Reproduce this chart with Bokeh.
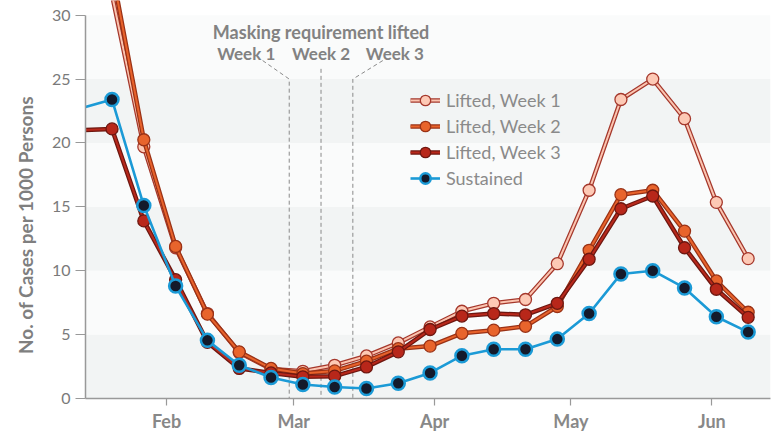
import pandas as pd
from bokeh.plotting import figure
from bokeh.models import (Range1d, FixedTicker, DatetimeTickFormatter, BoxAnnotation,
                          ColumnDataSource, Legend, LegendItem, CDSView, BooleanFilter)
from bokeh.embed import file_html
from bokeh.resources import INLINE
from bokeh.core.properties import value

NAN = float("nan")

# ---------------- data ----------------
week_dates = ["2021-01-13", "2021-01-20", "2021-01-27", "2021-02-03", "2021-02-10",
              "2021-02-17", "2021-02-24", "2021-03-03", "2021-03-10", "2021-03-17",
              "2021-03-24", "2021-03-31", "2021-04-07", "2021-04-14", "2021-04-21",
              "2021-04-28", "2021-05-05", "2021-05-12", "2021-05-19", "2021-05-26",
              "2021-06-02", "2021-06-09"]
sustained = [22.7, 23.4, 15.1, 8.8, 4.55, 2.6, 1.65, 1.1, 0.9, 0.78, 1.2, 2.0,
             3.35, 3.85, 3.85, 4.65, 6.65, 9.75, 10.0, 8.65, 6.4, 5.2]
lifted_week3 = [21.0, 21.1, 13.9, 9.3, 4.4, 2.35, 2.0, 1.7, 1.75, 2.47, 3.65, 5.4,
                6.45, 6.65, 6.55, 7.45, 10.9, 14.85, 15.85, 11.8, 8.55, 6.35]
lifted_week2 = [NAN, 33.5, 20.25, 11.9, 6.6, 3.65, 2.35, 1.95, 2.16, 2.92, 3.9, 4.1,
                5.1, 5.35, 5.65, 7.2, 11.6, 15.95, 16.3, 13.1, 9.2, 6.75]
lifted_week1 = [NAN, 31.6, 19.7, 11.8, 6.65, 3.6, 2.3, 2.13, 2.6, 3.33, 4.35, 5.6,
                6.83, 7.45, 7.75, 10.55, 16.3, 23.4, 25.0, 21.9, 15.35, 10.95]
series_labels = ["Lifted, Week 1", "Lifted, Week 2", "Lifted, Week 3", "Sustained"]

month_ticks = ["2021-02-01", "2021-03-01", "2021-04-01", "2021-05-01", "2021-06-01"]
y_ticks = [0, 5, 10, 15, 20, 25, 30]
band_edges = [0, 5, 10, 15, 20, 25, 30]
lift_dates = ["2021-02-28", "2021-03-07", "2021-03-14"]
lift_labels = ["Week 1", "Week 2", "Week 3"]
annotation_title = "Masking requirement lifted"
y_label = "No. of Cases per 1000 Persons"

# ---------------- figure ----------------
FONT = "Lato"
GRAY = "#828282"
x_start = pd.Timestamp("2021-01-14 04:00")
x_end = pd.Timestamp("2021-06-13 22:00")
y_max_axis = 30

p = figure(width=778, height=436, x_axis_type="datetime",
           x_range=Range1d(x_start, x_end), y_range=Range1d(0, 31.15),
           output_backend="svg", toolbar_location=None, title=None,
           min_border_left=85, min_border_right=8, min_border_top=0,
           min_border_bottom=38)
p.outline_line_color = None
p.xgrid.visible = False
p.ygrid.visible = False
p.background_fill_color = "white"
p.border_fill_color = "white"

band_colors = ["#f2f4f4", "#fafbfb"]
for i in range(len(band_edges) - 1):
    p.add_layout(BoxAnnotation(bottom=band_edges[i], top=band_edges[i + 1],
                               fill_color=band_colors[i % 2], fill_alpha=1.0,
                               line_color=None, level="underlay"))

# annotation lines (dashed)
lift_ts = [pd.Timestamp(d) for d in lift_dates]
leader_dx_days = [-5.85, 0.0, 6.6]
leader_top = [26.45, 25.8, 26.45]
joint_y = 25.0
xs, ys = [], []
for d, dx, top in zip(lift_ts, leader_dx_days, leader_top):
    xs.append([d + pd.Timedelta(days=dx), d, d])
    ys.append([top, joint_y, 0])
p.multi_line(xs, ys, line_color="#8a8a8a", line_width=1, line_dash="4 3")

p.text(x=[lift_ts[1]], y=[28.7], text=[annotation_title], text_font=value(FONT),
       text_font_style="bold", text_font_size="18px", text_color=GRAY,
       text_align="center", text_baseline="middle")
p.text(x=lift_ts, y=[27.0] * 3, text=lift_labels, x_offset=[-43, 0, 42],
       text_font=value(FONT), text_font_style="bold", text_font_size="17px",
       text_color=GRAY, text_align="center", text_baseline="middle")

# series
x = pd.to_datetime(week_dates)
src = ColumnDataSource(dict(x=x, w1=lifted_week1, w2=lifted_week2,
                            w3=lifted_week3, sus=sustained))
in_view = [bool(d >= x_start) for d in x]


def marker_view(vals):
    return CDSView(filter=BooleanFilter(
        booleans=[bool(iv and v == v and v <= y_max_axis) for iv, v in zip(in_view, vals)]))


styles = [
    ("w1", lifted_week1, "#a5382c", "#fbc4b0", "#fdc9b5"),
    ("w2", lifted_week2, "#9a3216", "#e8622b", "#e8642c"),
    ("w3", lifted_week3, "#6e1710", "#b8281b", "#b8271a"),
]
items = []
for (col, vals, outer, inner, fill), lab in zip(styles, series_labels[:3]):
    r1 = p.line("x", col, source=src, line_color=outer, line_width=4.5)
    r2 = p.line("x", col, source=src, line_color=inner, line_width=2)
    r3 = p.scatter("x", col, source=src, view=marker_view(vals), size=12,
                   fill_color=fill, line_color=outer, line_width=1.3)
    items.append(LegendItem(label=lab, renderers=[r1, r2, r3]))

s1 = p.line("x", "sus", source=src, line_color="#1b9ad6", line_width=2.6)
s2 = p.scatter("x", "sus", source=src, view=marker_view(sustained), size=13,
               fill_color="#141a2b", line_color="#1b9ad6", line_width=2.5)
items.append(LegendItem(label=series_labels[3], renderers=[s1, s2]))

legend = Legend(items=items, location=(325, 207), orientation="vertical",
                glyph_width=30, glyph_height=26, spacing=0, padding=0, margin=0,
                label_standoff=6, label_text_font=FONT, label_text_font_size="18px",
                label_text_color="#8a8a8a", background_fill_alpha=0,
                border_line_color=None)
p.add_layout(legend)

# axes
p.xaxis.ticker = FixedTicker(ticks=[pd.Timestamp(t).value / 1e6 for t in month_ticks])
fmt = "%b"
p.xaxis.formatter = DatetimeTickFormatter(
    microseconds=fmt, milliseconds=fmt, seconds=fmt, minsec=fmt, minutes=fmt,
    hourmin=fmt, hours=fmt, days=fmt, months=fmt, years=fmt)
p.xaxis.major_label_text_font = FONT
p.xaxis.major_label_text_font_style = "bold"
p.xaxis.major_label_text_font_size = "18px"
p.xaxis.major_label_text_color = "#888888"
p.xaxis.major_tick_out = 7
p.xaxis.major_tick_in = 0
p.xaxis.minor_tick_out = 0
p.xaxis.minor_tick_in = 0
p.xaxis.major_label_standoff = 4
p.xaxis.axis_line_color = "#999999"
p.xaxis.axis_line_width = 1.5
p.xaxis.major_tick_line_color = "#999999"
p.xaxis.major_tick_line_width = 1.2

p.yaxis.ticker = FixedTicker(ticks=y_ticks)
p.yaxis.bounds = (0, y_max_axis)
# trailing no-break spaces shift the centred title down to the 0-30 span centre
p.yaxis.axis_label = y_label + "\u00a0" * 11
p.yaxis.axis_label_text_font = FONT
p.yaxis.axis_label_text_font_style = "bold"
p.yaxis.axis_label_text_font_size = "19px"
p.yaxis.axis_label_text_color = "#7f7f7f"
p.yaxis.axis_label_standoff = 12
p.yaxis.major_label_text_font = FONT
p.yaxis.major_label_text_font_size = "16px"
p.yaxis.major_label_text_color = "#7a7a7a"
p.yaxis.major_tick_out = 10
p.yaxis.major_tick_in = 0
p.yaxis.minor_tick_out = 0
p.yaxis.minor_tick_in = 0
p.yaxis.major_label_standoff = 5
p.yaxis.axis_line_color = "#999999"
p.yaxis.axis_line_width = 1.5
p.yaxis.major_tick_line_color = "#999999"
p.yaxis.major_tick_line_width = 1.2

open("out.html", "w").write(file_html(p, INLINE))
